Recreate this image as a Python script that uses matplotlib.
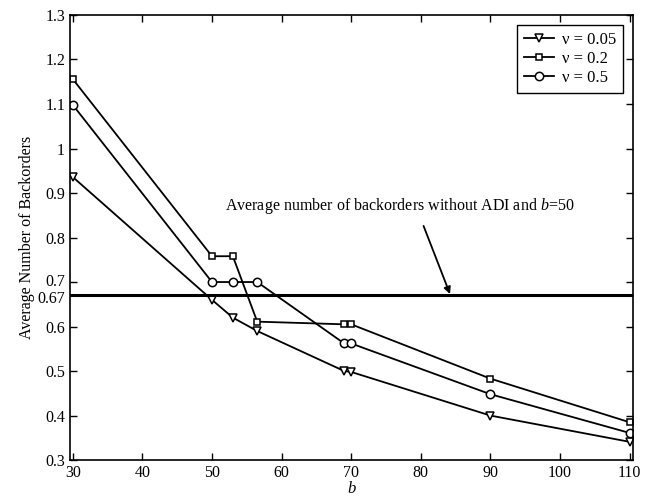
import matplotlib
matplotlib.use("Agg")
import matplotlib.pyplot as plt
from matplotlib.transforms import ScaledTranslation

plt.rcParams['font.family'] = ['Liberation Serif', 'DejaVu Serif']
plt.rcParams['mathtext.fontset'] = 'custom'
plt.rcParams['mathtext.it'] = 'Liberation Serif:italic'
plt.rcParams['mathtext.rm'] = 'Liberation Serif'

b = [30, 50, 53, 56.5, 69, 70, 90, 110]
v005 = [0.936, 0.66, 0.62, 0.59, 0.50, 0.498, 0.40, 0.341]
v02 = [1.156, 0.758, 0.758, 0.611, 0.605, 0.605, 0.483, 0.385]
v05 = [1.098, 0.70, 0.70, 0.70, 0.562, 0.562, 0.448, 0.361]
labels = ['ν = 0.05', 'ν = 0.2', 'ν = 0.5']
baseline = 0.67
yticks = [0.3, 0.4, 0.5, 0.6, 0.67, 0.7, 0.8, 0.9, 1.0, 1.1, 1.2, 1.3]
yticklabels = ['0.3', '0.4', '0.5', '0.6', '0.67', '0.7', '0.8', '0.9', '1', '1.1', '1.2', '1.3']
xticks = [30, 40, 50, 60, 70, 80, 90, 100, 110]

fig = plt.figure(figsize=(6.54, 4.99), dpi=100)
ax = fig.add_axes([0.107, 0.078, 0.861, 0.892])

ax.plot(b, v005, '-', color='black', lw=1.3, marker='v', ms=6, mfc='white', mec='black', mew=1.1, label=labels[0])
ax.plot(b, v02, '-', color='black', lw=1.3, marker='s', ms=5, mfc='white', mec='black', mew=1.1, label=labels[1])
ax.plot(b, v05, '-', color='black', lw=1.3, marker='o', ms=6, mfc='white', mec='black', mew=1.1, label=labels[2])
ax.axhline(baseline, color='black', lw=2.2)

ax.text(77, 0.848, 'Average number of backorders without ADI and $b$=50',
        ha='center', va='bottom', fontsize=11.5)
ax.annotate('', xy=(84.2, 0.673), xytext=(80.4, 0.826),
            arrowprops=dict(arrowstyle='-|>', color='black', lw=1.3,
                            shrinkA=0, shrinkB=0, mutation_scale=10))

ax.set_xlim(29.6, 110.5)
ax.set_ylim(0.3, 1.3)
ax.set_xticks(xticks)
ax.set_yticks(yticks)
ax.set_yticklabels(yticklabels)
ax.tick_params(direction='in', top=True, right=True, labelsize=11.5, length=5, width=1)
# nudge the two crowded labels apart slightly
for t, lab in zip(ax.get_yticklabels(), yticklabels):
    if lab == '0.67':
        t.set_transform(t.get_transform() + ScaledTranslation(0, -1.5 / 72, fig.dpi_scale_trans))
    elif lab == '0.7':
        t.set_transform(t.get_transform() + ScaledTranslation(0, 1.5 / 72, fig.dpi_scale_trans))
for s in ax.spines.values():
    s.set_linewidth(1.2)
ax.set_xlabel('$b$', fontsize=12, labelpad=0)
ax.set_ylabel('Average Number of Backorders', fontsize=11.5, labelpad=2)

leg = ax.legend(loc='upper right', fontsize=12, frameon=True, fancybox=False,
                edgecolor='black', framealpha=1, handlelength=1.8,
                borderaxespad=0.6, labelspacing=0.2, handletextpad=0.5)
leg.get_frame().set_linewidth(1.0)

fig.savefig('out.png', dpi=100)
